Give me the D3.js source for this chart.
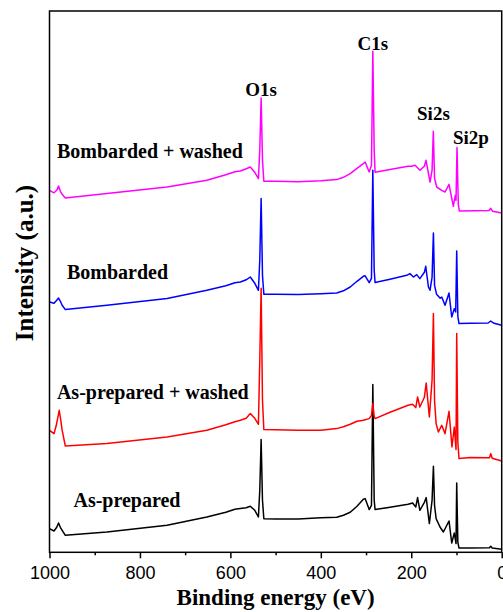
<!DOCTYPE html>
<html>
<head>
<meta charset="utf-8">
<script src="https://cdn.jsdelivr.net/npm/d3@7"></script>
<style>
  html, body { margin: 0; padding: 0; background: #fff; }
  svg { display: block; }
</style>
</head>
<body>
<svg id="chart" width="503" height="612"></svg>
<script>
// ---- Data (binding energy in eV, intensity in arbitrary units, stacked as plotted) ----
const seriesNames = ["As-prepared", "As-prepared + washed", "Bombarded", "Bombarded + washed"];
const seriesColors = ["#000000", "#ff0000", "#0000ff", "#ff00ff"];

const asPrepared = [
  [1000,23.7],[990,21.3],[984,25],[980,29.3],[976,25],[972,22],[965,17],[873,20.3],[740,27],[652,35.3],
  [610,40],[590,43],[578,43.7],[565,44.5],[556,46],[546,42],[538,35.3],[535,62],[532,112.7],[529,52],[526,33.5],
  [500,33.3],[450,33.3],[400,34.5],[365,35],[350,37],[335,40],[320,46],[306,53],[302,53.7],[293,42.7],[288,47],
  [285,167.7],[282,52],[280,42.7],[247,45],[207,48],[197,49.3],[190,45.3],[186,54.7],[181,42],[171,50],
  [167,54.7],[160,28.7],[154,52],[151,86],[148.5,47],[145,33.7],[136.4,25.3],[129,20.3],[116.5,31.3],
  [110.5,9.3],[104.8,19.3],[101,8.7],[99.5,69.3],[97,10],[94.4,4.3],[70,4.3],[27,4.5],[24.3,6],[21,4.3],[0,3]
];
const asPreparedWashed = [
  [1000,122],[990,118.7],[985,127],[978.5,142],[975,132],[972,122],[965,106.3],[873,108.7],[740,115.3],[652,122],
  [610,127.5],[590,130.5],[578,132],[565,134],[556,138.7],[546,134],[538,128],[535,192],[532,264],[529,152],[526,122.7],
  [500,122.5],[450,122],[400,122],[365,123.7],[350,125.5],[335,128],[320,131],[306,132],[293,133.7],[288,137],
  [285,148.7],[282,136],[280,133.7],[247,140],[207,147],[197,148],[190,144.7],[186,155.3],[181,145.3],[171,155],
  [167,169.3],[160,135.3],[154,172],[151,238.7],[148.5,152],[145,128.7],[140,120.3],[132.6,127],[125.3,118.7],
  [116.5,141],[110,105.3],[104.8,125.3],[101,102.7],[99.5,218.7],[97,110],[94.4,93.7],[70,94.7],[27,94.5],[24.3,98.7],[21,94],[0,91.3]
];
const bombarded = [
  [1000,250.3],[990,249],[984,252],[980,254.3],[976,251],[972,247],[965,242.7],[873,247],[740,253.7],[652,262],
  [610,266.5],[590,269.5],[578,270.3],[565,272.5],[556,275.3],[546,269],[538,262],[535,292],[532,353.7],[529,277],[526,258],
  [500,258],[450,257.8],[400,258.5],[365,259.3],[350,261.5],[335,265.3],[320,271],[306,276],[302,276.5],[293,269.7],[288,274],
  [285,382],[282,282],[280,269.7],[247,273],[210,277],[203,278.7],[195,275.3],[188,277.7],[181,273.7],[171,280],
  [168,286],[162,265.3],[158.5,262],[154,275],[151,319.3],[148.5,267],[144,258],[136,254],[132.6,255.3],[125.3,247],
  [116.5,259.3],[110.5,235.3],[104.8,243.7],[101.7,240.3],[99.5,301.3],[97,236],[94.4,228.7],[70,229],[30,229.3],[24.3,231.3],[17,229],[0,227]
];
const bombardedWashed = [
  [1000,362],[990,359.5],[984,362],[980,366.3],[976,361],[972,358],[965,354.3],[873,358.7],[740,365.3],[652,372],
  [610,377.5],[590,380.5],[578,381.3],[565,383.5],[556,385.3],[546,380],[538,373.7],[535,402],[532,454.3],[529,392],[526,371],
  [500,371],[450,370.5],[400,371.5],[365,372.7],[350,375],[335,378.7],[320,384],[306,388.7],[302,390.3],[293,380.3],[288,387],
  [285,501],[282,402],[280,380],[247,382.7],[207,386],[199,386],[191.6,387],[180.6,382],[171,386],
  [167.3,392],[158.5,370.3],[154,382],[151.2,421],[148.5,374],[143.7,365.3],[132.6,362],[125.3,360.3],
  [116.5,368],[107,346],[102.6,357],[101,352],[98.8,404.7],[96,348],[93.7,341.3],[60,341.5],[28,341.8],[24.3,344],[20,341],[0,339.3]
];
const seriesData = [asPrepared, asPreparedWashed, bombarded, bombardedWashed];

const xTicks = [1000, 800, 600, 400, 200, 0];
const xMinorTicks = [900, 700, 500, 300, 100];

const peakLabels = ["O1s", "C1s", "Si2s", "Si2p"];
const peakLabelPos = [[532, 456], [285, 502], [151, 432], [68, 408]];
const seriesLabelPos = [[947, 45], [983.6, 153], [961.5, 273], [983.6, 394]];

const xTitle = "Binding energy (eV)";
const yTitle = "Intensity (a.u.)";

// ---- Layout ----
const svg = d3.select("#chart");
const mLeft = 49.5, mRight = 501.7, mTop = 11, mBottom = 552.3;

const x = d3.scaleLinear().domain([1000, 0]).range([mLeft, mRight]);
const y = d3.scaleLinear().domain([0, 541.3]).range([mBottom, mTop]);

const line = d3.line().x(d => x(d[0])).y(d => y(d[1]));

// series
seriesData.forEach((s, i) => {
  svg.append("path")
    .datum(s)
    .attr("d", line)
    .attr("fill", "none")
    .attr("stroke", seriesColors[i])
    .attr("stroke-width", 1.5)
    .attr("stroke-linejoin", "round");
});

// frame
svg.append("rect")
  .attr("x", mLeft).attr("y", mTop)
  .attr("width", mRight - mLeft).attr("height", mBottom - mTop)
  .attr("fill", "none").attr("stroke", "#000").attr("stroke-width", 1.5);

// x axis major
const ax = svg.append("g")
  .attr("transform", `translate(0,${mBottom})`)
  .call(d3.axisBottom(x).tickValues(xTicks).tickSize(6).tickPadding(8).tickFormat(d3.format("d")));
ax.select(".domain").remove();
ax.selectAll("line").attr("stroke-width", 1.5);
ax.selectAll("text")
  .attr("font-family", "'Liberation Sans', Arial, sans-serif")
  .attr("font-size", 18).attr("fill", "#000");

// minor ticks
const axm = svg.append("g")
  .attr("transform", `translate(0,${mBottom})`)
  .call(d3.axisBottom(x).tickValues(xMinorTicks).tickSize(3).tickFormat(""));
axm.select(".domain").remove();
axm.selectAll("line").attr("stroke-width", 1.5);

// axis titles
svg.append("text")
  .attr("x", (mLeft + mRight) / 2).attr("y", 605)
  .attr("text-anchor", "middle")
  .attr("font-family", "'Liberation Serif', 'Times New Roman', serif")
  .attr("font-weight", "bold").attr("font-size", 23)
  .text(xTitle);

svg.append("text")
  .attr("transform", `translate(32.5,263) rotate(-90)`)
  .attr("text-anchor", "middle")
  .attr("font-family", "'Liberation Serif', 'Times New Roman', serif")
  .attr("font-weight", "bold").attr("font-size", 25)
  .text(yTitle);

// peak labels
peakLabels.forEach((t, i) => {
  svg.append("text")
    .attr("x", x(peakLabelPos[i][0])).attr("y", y(peakLabelPos[i][1]))
    .attr("text-anchor", "middle")
    .attr("font-family", "'Liberation Serif', 'Times New Roman', serif")
    .attr("font-weight", "bold").attr("font-size", 19)
    .text(t);
});

// series labels
seriesNames.forEach((t, i) => {
  svg.append("text")
    .attr("x", x(seriesLabelPos[i][0])).attr("y", y(seriesLabelPos[i][1]))
    .attr("text-anchor", "start")
    .attr("font-family", "'Liberation Serif', 'Times New Roman', serif")
    .attr("font-weight", "bold").attr("font-size", 20)
    .text(t);
});
</script>
</body>
</html>
